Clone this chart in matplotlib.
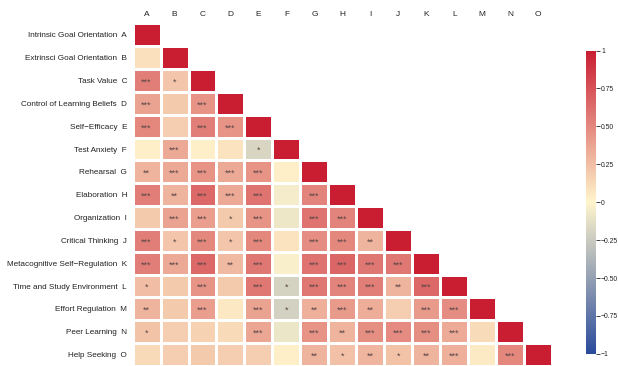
import numpy as np
import matplotlib

matplotlib.use("Agg")
import matplotlib.pyplot as plt
from matplotlib.colors import LinearSegmentedColormap

plt.rcParams["font.family"] = ["Liberation Sans", "DejaVu Sans"]

scales = [
    "Intrinsic Goal Orientation",
    "Extrinsci Goal Orientation",
    "Task Value",
    "Control of Learning Beliefs",
    "Self\u2212Efficacy",
    "Test Anxiety",
    "Rehearsal",
    "Elaboration",
    "Organization",
    "Critical Thinking",
    "Metacognitive Self\u2212Regulation",
    "Time and Study Environment",
    "Effort Regulation",
    "Peer Learning",
    "Help Seeking",
]
codes = list("ABCDEFGHIJKLMNO")

# lower triangle of the correlation matrix, row by row (diagonal included)
corr_lower = [
    [1.00],
    [0.10, 1.00],
    [0.55, 0.22, 1.00],
    [0.38, 0.20, 0.45, 1.00],
    [0.50, 0.18, 0.55, 0.45, 1.00],
    [0.03, 0.35, 0.03, 0.08, -0.18, 1.00],
    [0.30, 0.35, 0.45, 0.35, 0.45, 0.03, 1.00],
    [0.55, 0.30, 0.65, 0.35, 0.60, -0.05, 0.52, 1.00],
    [0.20, 0.38, 0.40, 0.20, 0.45, -0.08, 0.60, 0.52, 1.00],
    [0.55, 0.22, 0.50, 0.22, 0.50, 0.08, 0.48, 0.50, 0.30, 1.00],
    [0.55, 0.35, 0.65, 0.28, 0.58, -0.03, 0.60, 0.66, 0.58, 0.58, 1.00],
    [0.25, 0.20, 0.45, 0.20, 0.58, -0.20, 0.58, 0.52, 0.55, 0.30, 0.65, 1.00],
    [0.30, 0.20, 0.40, 0.06, 0.38, -0.21, 0.32, 0.42, 0.33, 0.18, 0.42, 0.48, 1.00],
    [0.23, 0.18, 0.16, 0.13, 0.36, -0.09, 0.45, 0.30, 0.47, 0.49, 0.47, 0.34, 0.12, 1.00],
    [0.13, 0.18, 0.20, 0.18, 0.18, 0.03, 0.30, 0.24, 0.29, 0.23, 0.30, 0.32, 0.05, 0.50, 1.00],
]

stars_lower = [
    [""],
    ["", ""],
    ["***", "*", ""],
    ["***", "", "***", ""],
    ["***", "", "***", "***", ""],
    ["", "***", "", "", "*", ""],
    ["**", "***", "***", "***", "***", "", ""],
    ["***", "**", "***", "***", "***", "", "***", ""],
    ["", "***", "***", "*", "***", "", "***", "***", ""],
    ["***", "*", "***", "*", "***", "", "***", "***", "**", ""],
    ["***", "***", "***", "**", "***", "", "***", "***", "***", "***", ""],
    ["*", "", "***", "", "***", "*", "***", "***", "***", "**", "***", ""],
    ["**", "", "***", "", "***", "*", "**", "***", "**", "", "***", "***", ""],
    ["*", "", "", "", "***", "", "***", "**", "***", "***", "***", "***", "", ""],
    ["", "", "", "", "", "", "**", "*", "**", "*", "**", "***", "", "***", ""],
]

n = len(codes)
mat = np.full((n, n), np.nan)
for i, row in enumerate(corr_lower):
    mat[i, : len(row)] = row
mat = np.ma.masked_invalid(mat)

cmap = LinearSegmentedColormap.from_list(
    "blue_cream_red", ["#2A4B9B", "#FFF5CC", "#C91D32"]
)

fig = plt.figure(figsize=(6.18, 3.66), dpi=100)
ax = fig.add_axes([0.2145, 0.0, 0.679, 0.936])
mesh = ax.pcolormesh(
    np.arange(n + 1), np.arange(n + 1), mat,
    cmap=cmap, vmin=-1, vmax=1, edgecolors="white", linewidth=0.9,
)
ax.set_xlim(0, n)
ax.set_ylim(n, 0)

# significance stars sit a little low so the glyphs look centred
for i, row in enumerate(stars_lower):
    for j, s in enumerate(row):
        if s:
            ax.text(j + 0.5, i + 0.68, s, ha="center", va="baseline",
                    fontsize=6.5, color="#5a4646")

ax.xaxis.tick_top()
ax.set_xticks(np.arange(n) + 0.5)
ax.set_xticklabels(codes, fontsize=6, color="#222222")
ax.set_yticks(np.arange(n) + 0.5)
ax.set_yticklabels([f"{s}  {c}" for s, c in zip(scales, codes)],
                   fontsize=5.9, color="#222222")
ax.tick_params(length=0, pad=4)
for sp in ax.spines.values():
    sp.set_visible(False)

cax = fig.add_axes([0.948, 0.033, 0.0162, 0.829])
cb = fig.colorbar(mesh, cax=cax, ticks=[-1, -0.75, -0.5, -0.25, 0, 0.25, 0.5, 0.75, 1])
cb.ax.set_yticklabels(["\u22121", "\u22120.75", "\u22120.50", "\u22120.25", "0",
                       "0.25", "0.50", "0.75", "1"])
cb.outline.set_visible(False)
cb.ax.tick_params(labelsize=4.9, length=3, width=0.6, pad=0.8, color="#222222",
                  labelcolor="#222222")

fig.savefig("out.png", dpi=100)
